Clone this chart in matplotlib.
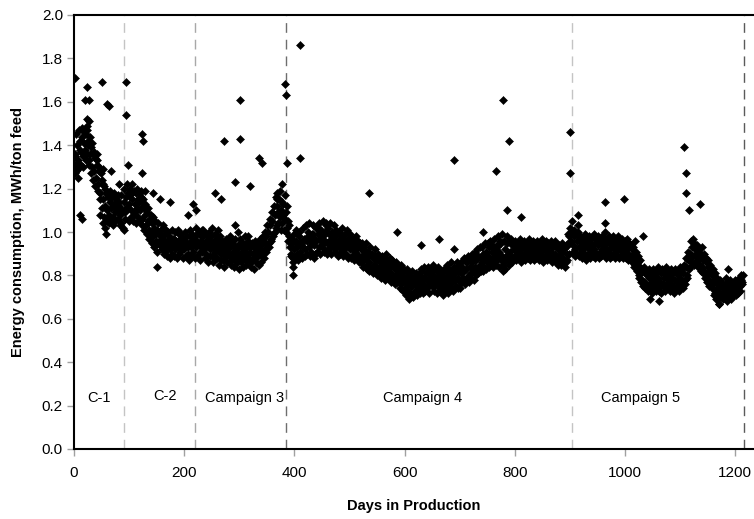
import numpy as np
import matplotlib
matplotlib.use("Agg")
import matplotlib.pyplot as plt

plt.rcParams['font.family'] = ['Liberation Sans', 'DejaVu Sans']

# main daily band, even days (0, 2, 4, ...)
band_vals = [
    1.30, 1.36, 1.28, 1.40, 1.33, 1.42, 1.37, 1.44, 1.35, 1.41,
    1.38, 1.45, 1.36, 1.42, 1.33, 1.39, 1.30, 1.36, 1.28, 1.34,
    1.25, 1.31, 1.22, 1.28, 1.18, 1.24, 1.15, 1.21, 1.12, 1.18,
    1.10, 1.16, 1.08, 1.14, 1.11, 1.07, 1.13, 1.09, 1.15, 1.10,
    1.06, 1.12, 1.08, 1.04, 1.10, 1.14, 1.09, 1.16, 1.11, 1.18,
    1.13, 1.20, 1.10, 1.15, 1.08, 1.13, 1.18, 1.11, 1.07, 1.14,
    1.10, 1.16, 1.06, 1.12, 1.08, 1.03, 1.09, 1.05, 1.01, 1.06,
    1.00, 1.04, 0.98, 1.02, 0.96, 1.01, 0.95, 0.99, 0.94, 0.98,
    0.93, 0.97, 0.95, 0.91, 0.96, 0.93, 0.98, 0.92, 0.95, 0.90,
    0.94, 0.97, 0.92, 0.96, 0.93, 0.99, 0.91, 0.95, 0.93, 0.97,
    0.92, 0.96, 0.94, 0.90, 0.95, 0.98, 0.93, 0.96, 0.91, 0.95,
    0.97, 0.93, 0.99, 0.94, 0.91, 0.96, 0.93, 0.98, 0.92, 0.95,
    0.90, 0.94, 0.97, 0.92, 0.95, 0.89, 0.93, 0.96, 0.91, 0.94,
    0.88, 0.92, 0.95, 0.90, 0.93, 0.87, 0.91, 0.94, 0.89, 0.92,
    0.96, 0.90, 0.93, 0.87, 0.91, 0.94, 0.89, 0.92, 0.86, 0.90,
    0.93, 0.88, 0.91, 0.95, 0.89, 0.92, 0.87, 0.90, 0.94, 0.88,
    0.91, 0.86, 0.90, 0.93, 0.88, 0.92, 0.95, 0.89, 0.93, 0.90,
    0.94, 0.91, 0.96, 0.92, 0.98, 0.94, 1.00, 0.95, 1.03, 0.97,
    1.05, 0.99, 1.08, 1.02, 1.12, 1.04, 1.15, 1.07, 1.10, 1.04,
    1.13, 1.06, 1.09, 1.02, 1.05, 0.98, 0.93, 0.90, 0.95, 0.88,
    0.92, 0.96, 0.90, 0.94, 0.98, 0.91, 0.95, 0.89, 0.93, 0.97,
    0.92, 0.96, 1.00, 0.93, 0.97, 0.91, 0.95, 0.99, 0.94, 0.90,
    0.96, 1.02, 0.93, 0.97, 1.01, 0.94, 0.98, 0.92, 0.96, 1.03,
    0.95, 0.99, 0.93, 0.97, 1.00, 0.94, 0.98, 0.92, 0.96, 0.99,
    0.93, 0.97, 0.91, 0.95, 0.98, 0.92, 0.96, 0.90, 0.94, 0.97,
    0.92, 0.95, 0.89, 0.93, 0.96, 0.91, 0.94, 0.90, 0.93, 0.88,
    0.92, 0.89, 0.93, 0.87, 0.91, 0.88, 0.85, 0.89, 0.86, 0.90,
    0.84, 0.88, 0.85, 0.82, 0.87, 0.84, 0.88, 0.83, 0.86, 0.82,
    0.85, 0.81, 0.84, 0.87, 0.82, 0.85, 0.80, 0.84, 0.81, 0.86,
    0.79, 0.83, 0.80, 0.84, 0.78, 0.82, 0.79, 0.76, 0.81, 0.78,
    0.74, 0.79, 0.76, 0.81, 0.77, 0.72, 0.78, 0.75, 0.70, 0.76,
    0.73, 0.78, 0.75, 0.80, 0.74, 0.77, 0.82, 0.76, 0.79, 0.74,
    0.78, 0.81, 0.76, 0.79, 0.83, 0.77, 0.80, 0.75, 0.79, 0.82,
    0.77, 0.80, 0.74, 0.78, 0.81, 0.76, 0.79, 0.73, 0.77, 0.80,
    0.75, 0.79, 0.82, 0.77, 0.80, 0.74, 0.78, 0.83, 0.79, 0.82,
    0.77, 0.81, 0.84, 0.79, 0.82, 0.78, 0.83, 0.86, 0.80, 0.84,
    0.81, 0.86, 0.83, 0.88, 0.84, 0.87, 0.82, 0.89, 0.85, 0.88,
    0.86, 0.90, 0.84, 0.88, 0.91, 0.86, 0.89, 0.93, 0.87, 0.91,
    0.88, 0.92, 0.86, 0.90, 0.94, 0.88, 0.91, 0.95, 0.89, 0.82,
    0.86, 0.92, 0.88, 0.95, 0.90, 0.85, 0.91, 0.94, 0.88, 0.92,
    0.89, 0.93, 0.90, 0.94, 0.91, 0.88, 0.92, 0.95, 0.90, 0.93,
    0.91, 0.94, 0.89, 0.92, 0.95, 0.90, 0.93, 0.91, 0.94, 0.89,
    0.92, 0.95, 0.90, 0.93, 0.91, 0.94, 0.89, 0.92, 0.95, 0.91,
    0.93, 0.90, 0.94, 0.91, 0.89, 0.93, 0.90, 0.94, 0.88, 0.92,
    0.89, 0.93, 0.87, 0.91, 0.88, 0.92, 0.86, 0.90, 0.94, 0.98,
    1.02, 0.96, 1.00, 0.94, 0.98, 0.92, 0.96, 1.03, 0.93, 0.97,
    0.91, 0.95, 0.92, 0.96, 0.90, 0.94, 0.97, 0.92, 0.95, 0.91,
    0.94, 0.98, 0.92, 0.95, 0.90, 0.94, 0.97, 0.91, 0.95, 0.92,
    0.96, 0.93, 0.97, 0.91, 0.95, 0.92, 0.96, 0.90, 0.94, 0.97,
    0.92, 0.95, 0.91, 0.94, 0.97, 0.92, 0.95, 0.90, 0.94, 0.92,
    0.95, 0.91, 0.94, 0.90, 0.93, 0.89, 0.92, 0.87, 0.90, 0.85,
    0.88, 0.83, 0.86, 0.80, 0.84, 0.78, 0.82, 0.77, 0.81, 0.76,
    0.80, 0.75, 0.79, 0.82, 0.77, 0.80, 0.74, 0.78, 0.81, 0.76,
    0.79, 0.73, 0.77, 0.81, 0.75, 0.79, 0.82, 0.76, 0.80, 0.74,
    0.78, 0.81, 0.76, 0.79, 0.74, 0.78, 0.82, 0.77, 0.80, 0.75,
    0.79, 0.82, 0.77, 0.81, 0.78, 0.84, 0.80, 0.87, 0.83, 0.90,
    0.86, 0.93, 0.89, 0.95, 0.90, 0.87, 0.92, 0.88, 0.85, 0.89,
    0.84, 0.87, 0.82, 0.86, 0.80, 0.84, 0.78, 0.82, 0.76, 0.80,
    0.74, 0.78, 0.72, 0.76, 0.70, 0.74, 0.77, 0.71, 0.75, 0.69,
    0.73, 0.76, 0.70, 0.74, 0.72, 0.75, 0.71, 0.74, 0.72, 0.76,
    0.73, 0.75, 0.74, 0.77, 0.75, 0.78, 0.77, 0.80,
]

# main daily band, odd days (1, 3, 5, ...)
band2_vals = [
    1.27, 1.45, 1.32, 1.25, 1.47, 1.38, 1.31, 1.48, 1.30, 1.46,
    1.33, 1.49, 1.40, 1.31, 1.44, 1.27, 1.41, 1.24, 1.37, 1.21,
    1.33, 1.19, 1.30, 1.15, 1.27, 1.11, 1.22, 1.07, 1.20, 1.05,
    1.17, 1.04, 1.19, 1.06, 1.16, 1.03, 1.18, 1.05, 1.12, 1.17,
    1.14, 1.03, 1.17, 1.09, 1.02, 1.20, 1.06, 1.11, 1.22, 1.05,
    1.17, 1.07, 1.22, 1.05, 1.19, 1.09, 1.04, 1.20, 1.15, 1.05,
    1.19, 1.03, 1.15, 1.01, 1.13, 1.10, 0.99, 1.11, 0.97, 1.08,
    0.95, 1.07, 0.93, 1.05, 0.99, 0.91, 1.04, 0.96, 1.01, 0.92,
    1.02, 0.90, 0.99, 1.01, 0.89, 1.00, 0.94, 0.88, 1.01, 0.97,
    0.89, 1.00, 0.95, 0.88, 1.01, 0.90, 0.97, 0.99, 0.88, 0.93,
    1.00, 0.89, 0.98, 0.93, 0.87, 1.01, 0.89, 0.99, 0.95, 0.88,
    1.02, 0.89, 0.95, 1.00, 0.87, 0.98, 0.91, 1.01, 0.88, 0.99,
    0.96, 0.86, 1.00, 0.89, 0.98, 0.93, 0.86, 0.99, 0.88, 0.97,
    0.92, 0.85, 0.98, 0.87, 0.96, 0.91, 0.84, 0.97, 0.86, 0.95,
    0.89, 0.98, 0.85, 0.96, 0.88, 0.84, 0.97, 0.86, 0.94, 0.83,
    0.97, 0.86, 0.95, 0.84, 0.92, 0.98, 0.85, 0.96, 0.87, 0.93,
    0.84, 0.95, 0.87, 0.83, 0.96, 0.86, 0.91, 0.85, 0.97, 0.86,
    0.90, 0.98, 0.88, 1.00, 0.91, 1.03, 0.93, 1.06, 0.96, 1.09,
    0.98, 1.12, 1.00, 1.16, 1.03, 1.09, 1.19, 1.01, 1.14, 1.08,
    1.01, 1.17, 1.00, 1.12, 0.96, 1.03, 0.89, 0.97, 0.86, 0.99,
    0.88, 1.01, 0.93, 0.87, 1.00, 0.95, 0.88, 1.02, 0.96, 0.89,
    1.03, 0.90, 0.98, 1.04, 0.89, 0.99, 1.03, 0.88, 0.97, 1.02,
    0.91, 0.99, 1.04, 0.90, 0.96, 1.05, 0.91, 1.00, 1.04, 0.90,
    1.02, 0.92, 1.04, 0.90, 0.96, 1.03, 0.91, 1.01, 0.95, 0.89,
    1.00, 0.90, 0.98, 1.02, 0.89, 0.99, 0.94, 1.01, 0.88, 0.96,
    0.99, 0.88, 0.97, 0.92, 0.87, 0.98, 0.88, 0.96, 0.86, 0.95,
    0.86, 0.95, 0.84, 0.92, 0.95, 0.83, 0.91, 0.82, 0.93, 0.83,
    0.90, 0.81, 0.89, 0.92, 0.80, 0.90, 0.81, 0.87, 0.79, 0.89,
    0.80, 0.88, 0.78, 0.90, 0.79, 0.86, 0.88, 0.77, 0.87, 0.79,
    0.85, 0.76, 0.86, 0.77, 0.84, 0.74, 0.85, 0.80, 0.73, 0.83,
    0.78, 0.71, 0.83, 0.73, 0.80, 0.75, 0.82, 0.71, 0.79, 0.73,
    0.81, 0.71, 0.80, 0.72, 0.83, 0.79, 0.72, 0.84, 0.73, 0.81,
    0.74, 0.84, 0.72, 0.82, 0.75, 0.85, 0.73, 0.83, 0.76, 0.72,
    0.84, 0.73, 0.82, 0.76, 0.71, 0.83, 0.74, 0.82, 0.85, 0.72,
    0.83, 0.74, 0.86, 0.73, 0.84, 0.81, 0.75, 0.86, 0.74, 0.85,
    0.74, 0.86, 0.77, 0.88, 0.76, 0.86, 0.79, 0.89, 0.77, 0.87,
    0.79, 0.90, 0.78, 0.91, 0.80, 0.92, 0.81, 0.84, 0.93, 0.82,
    0.93, 0.82, 0.95, 0.83, 0.87, 0.95, 0.84, 0.96, 0.85, 0.94,
    0.84, 0.97, 0.85, 0.93, 0.98, 0.84, 0.96, 0.87, 0.99, 0.85,
    0.96, 0.83, 0.98, 0.87, 0.96, 0.89, 0.97, 0.86, 0.95, 0.88,
    0.96, 0.87, 0.95, 0.88, 0.97, 0.86, 0.95, 0.89, 0.96, 0.87,
    0.95, 0.88, 0.97, 0.87, 0.94, 0.89, 0.96, 0.87, 0.95, 0.88,
    0.96, 0.87, 0.94, 0.89, 0.97, 0.86, 0.95, 0.88, 0.96, 0.87,
    0.95, 0.88, 0.96, 0.86, 0.94, 0.87, 0.96, 0.86, 0.94, 0.85,
    0.94, 0.85, 0.95, 0.86, 0.93, 0.84, 0.94, 0.87, 0.99, 0.90,
    0.96, 1.05, 0.91, 1.01, 0.89, 0.99, 0.90, 1.00, 0.89, 0.98,
    0.88, 0.97, 0.89, 0.99, 0.87, 0.97, 0.90, 0.98, 0.88, 0.97,
    0.89, 0.99, 0.88, 0.97, 0.90, 0.98, 0.88, 0.97, 0.89, 0.98,
    0.90, 1.00, 0.88, 0.97, 0.90, 0.98, 0.88, 0.97, 0.89, 0.98,
    0.88, 0.97, 0.89, 0.98, 0.88, 0.96, 0.89, 0.97, 0.88, 0.96,
    0.88, 0.97, 0.87, 0.95, 0.88, 0.94, 0.86, 0.93, 0.84, 0.91,
    0.82, 0.89, 0.79, 0.87, 0.77, 0.83, 0.75, 0.84, 0.74, 0.82,
    0.73, 0.83, 0.74, 0.81, 0.72, 0.83, 0.75, 0.82, 0.73, 0.84,
    0.74, 0.82, 0.72, 0.83, 0.76, 0.81, 0.73, 0.84, 0.74, 0.82,
    0.73, 0.83, 0.75, 0.81, 0.72, 0.83, 0.74, 0.82, 0.73, 0.84,
    0.75, 0.83, 0.74, 0.85, 0.76, 0.88, 0.79, 0.91, 0.84, 0.96,
    0.89, 0.97, 0.85, 0.92, 0.86, 0.94, 0.84, 0.91, 0.82, 0.93,
    0.81, 0.90, 0.79, 0.88, 0.77, 0.87, 0.75, 0.85, 0.74, 0.83,
    0.71, 0.81, 0.69, 0.79, 0.73, 0.67, 0.78, 0.70, 0.76, 0.72,
    0.70, 0.79, 0.68, 0.77, 0.70, 0.78, 0.69, 0.76, 0.71, 0.78,
    0.71, 0.77, 0.72, 0.79, 0.73, 0.80, 0.76,
]

# scattered readings off the main band
extra_days = [
    1, 24, 50, 94, 20, 28, 60, 64, 94, 23, 28, 24, 11, 14, 47, 53, 56, 58, 90,
    98, 68, 53, 82, 2, 2, 8, 41, 29,
    123, 125, 123, 120, 128, 144, 156, 174, 150, 162, 207, 216, 221, 256, 267,
    272, 293, 301, 301, 319, 335, 342, 368, 368, 377, 382, 385, 387, 410, 410,
    397, 397, 232, 250, 262, 292, 298, 316,
    536, 586, 630, 662, 690, 690, 742, 765, 778, 789, 786, 608, 614,
    812, 901, 901, 915, 964, 964, 998, 1018, 1033, 1107, 1110, 1110, 1116,
    1136, 1186, 1046, 1062, 1170, 1166,
]
extra_vals = [
    1.71, 1.67, 1.69, 1.69, 1.61, 1.61, 1.59, 1.58, 1.54, 1.52, 1.51, 1.47, 1.08, 1.06, 1.08, 1.04, 1.02, 0.99, 1.01,
    1.31, 1.28, 1.29, 1.22, 1.35, 1.30, 1.29, 1.36, 1.36,
    1.45, 1.42, 1.27, 1.18, 1.19, 1.18, 1.15, 1.14, 0.84, 1.03, 1.08, 1.13, 1.10, 1.18, 1.15,
    1.42, 1.23, 1.61, 1.43, 1.21, 1.34, 1.32, 1.18, 1.15, 1.22, 1.68, 1.63, 1.32, 1.86, 1.34,
    0.80, 0.84, 1.01, 1.02, 1.01, 1.03, 1.00, 0.98,
    1.18, 1.00, 0.94, 0.97, 1.33, 0.92, 1.00, 1.28, 1.61, 1.42, 1.10, 0.69, 0.71,
    1.07, 1.46, 1.27, 1.08, 1.14, 1.04, 1.15, 0.96, 0.98, 1.39, 1.27, 1.18, 1.10,
    1.13, 0.83, 0.69, 0.68, 0.67, 0.69,
]

campaign_bounds = [91, 220, 385, 903, 1215]
bound_colors = ['#c4c4c4', '#a8a8a8', '#6e6e6e', '#c4c4c4', '#5a5a5a']
campaign_labels = ['C-1', 'C-2', 'Campaign 3', 'Campaign 4', 'Campaign 5']
label_days = [46, 166, 309, 632, 1028]
label_vals = [0.235, 0.242, 0.235, 0.235, 0.235]

x_ticks = [0, 200, 400, 600, 800, 1000, 1200]
y_ticks = [0.0, 0.2, 0.4, 0.6, 0.8, 1.0, 1.2, 1.4, 1.6, 1.8, 2.0]

band_days = np.arange(0, 2 * len(band_vals), 2)
band2_days = np.arange(1, 2 * len(band2_vals) + 1, 2)

fig = plt.figure(figsize=(7.54, 5.19), dpi=100)
ax = fig.add_axes([74/754, 70/519, 1 - 74/754, 434/519])

for d, c in zip(campaign_bounds, bound_colors):
    ax.axvline(d, color=c, lw=1.0, dashes=(7, 5), zorder=1)

mk = dict(marker='D', ms=3.6, color='black', mec='black', mew=0.4, ls='none', zorder=3)
ax.plot(band_days, band_vals, **mk)
ax.plot(band2_days, band2_vals, **mk)
ax.plot(extra_days, extra_vals, **mk)

for t, d, v in zip(campaign_labels, label_days, label_vals):
    ax.text(d, v, t, ha='center', va='center', fontsize=10.5)

ax.set_xlim(0, 1234)
ax.set_ylim(0, 2.0)
ax.set_xticks(x_ticks)
ax.set_yticks(y_ticks)
ax.set_yticklabels([f'{v:.1f}' for v in y_ticks])
ax.tick_params(axis='both', direction='out', length=5, width=1, color='#a0a0a0',
               labelsize=11, labelcolor='black')
ax.tick_params(axis='x', pad=7)
ax.tick_params(axis='y', pad=3)

for s in ['left', 'bottom', 'top']:
    ax.spines[s].set_linewidth(1.5)
    ax.spines[s].set_color('black')
ax.spines['right'].set_visible(False)

ax.set_xlabel('Days in Production', fontsize=10.5, fontweight='bold', labelpad=14)
ax.set_ylabel('Energy consumption, MWh/ton feed', fontsize=10.5, fontweight='bold', labelpad=12)

fig.savefig('out.png', dpi=100)
